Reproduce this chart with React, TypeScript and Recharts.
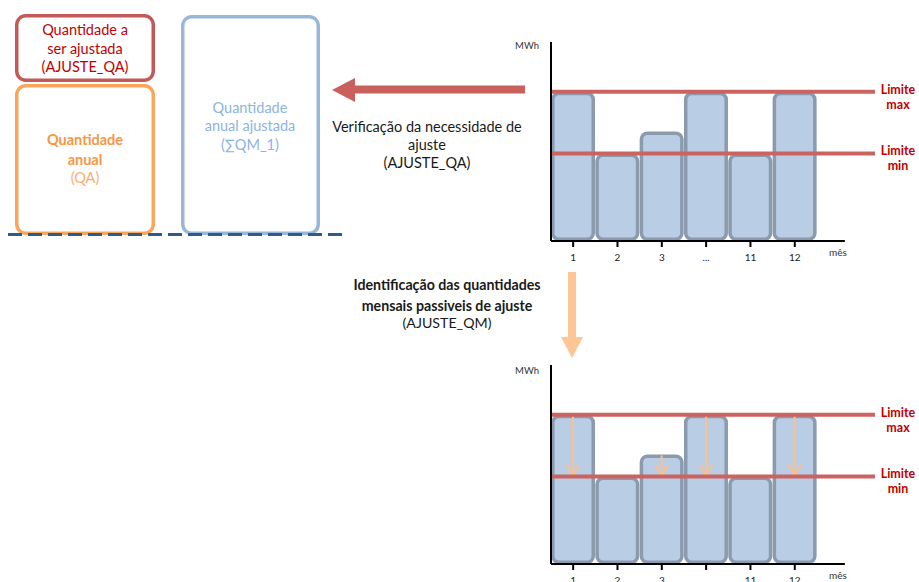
import React from "react";
import { BarChart, Bar, XAxis, YAxis, ReferenceLine } from "recharts";

// meses mostrados no eixo (posição 1..6) e os seus rótulos
const meses = [1, 2, 3, 4, 5, 6];
const rotulosMes = ["1", "2", "3", "...", "11", "12"];
// quantidades mensais (MWh, escala relativa 0-100)
const quantidadesMensais = [75, 44, 55, 75, 44, 75];
const LIMITE_MAX = 75;
const LIMITE_MIN = 44;
const FIM_EIXO_X = 7.13;

const dados = meses.map((mes, i) => ({ mes, valor: quantidadesMensais[i] }));

const FONTE = "Lato, 'Liberation Sans', sans-serif";
const VERMELHO = "#C00000";
const LINHA_LIMITE = "#CB6360";
const ESPESSURA = 3.5;

const BarraMensal = (props: any) => {
  const { x, y, width, height, payload, comSetas } = props;
  const h = ESPESSURA / 2;
  let seta = null;
  if (comSetas && payload.valor > LIMITE_MIN) {
    const yMin = y + height * (1 - LIMITE_MIN / payload.valor);
    const cx = x + width / 2;
    seta = (
      <g stroke="#FAC08F" strokeWidth={2} fill="none">
        <line x1={cx} y1={y + 1} x2={cx} y2={yMin - 1} />
        <polyline points={`${cx - 6.5},${yMin - 12} ${cx},${yMin - 1} ${cx + 6.5},${yMin - 12}`} />
      </g>
    );
  }
  return (
    <g>
      <rect
        x={x + h}
        y={y + h}
        width={width - ESPESSURA}
        height={height - ESPESSURA}
        rx={6}
        ry={6}
        fill="#B9CDE5"
        stroke="#8B9AAD"
        strokeWidth={ESPESSURA}
      />
      {seta}
    </g>
  );
};

const rotuloLimite = (nome: string) => (props: any) => {
  const { viewBox } = props;
  const cx = viewBox.x + viewBox.width + 23;
  return (
    <text x={cx} y={viewBox.y + 2} textAnchor="middle" fill={VERMELHO} fontFamily={FONTE} fontWeight={700} fontSize={12.5}>
      <tspan x={cx}>Limite</tspan>
      <tspan x={cx} dy={15}>{nome}</tspan>
    </text>
  );
};

const Grafico = ({ top, comSetas, mwhDy }: { top: number; comSetas: boolean; mwhDy: number }) => (
  <div style={{ position: "absolute", left: 500, top }}>
    <BarChart
      width={419}
      height={250}
      data={dados}
      margin={{ top: 12, right: 44, bottom: 9, left: 0 }}
      barCategoryGap={0}
      barGap={0}
    >
      <XAxis
        type="number"
        dataKey="mes"
        domain={[0.5, 7.81]}
        ticks={meses}
        interval={0}
        tickFormatter={(v) => rotulosMes[v - 1]}
        axisLine={false}
        tickLine={{ stroke: "#000", strokeWidth: 2 }}
        tickSize={6}
        tickMargin={7}
        tick={{ fontSize: 10, fill: "#222", fontFamily: FONTE }}
        height={30}
      />
      <YAxis
        domain={[0, 100]}
        tick={false}
        tickLine={false}
        axisLine={{ stroke: "#000", strokeWidth: 2 }}
        width={51}
        label={(p: any) => (
          <text
            x={p.viewBox.x + p.viewBox.width - 12}
            y={p.viewBox.y + mwhDy}
            textAnchor="end"
            fontSize={9.5}
            fill="#333"
            fontFamily={FONTE}
          >
            MWh
          </text>
        )}
      />
      <Bar
        dataKey="valor"
        isAnimationActive={false}
        shape={(p: any) => <BarraMensal {...p} comSetas={comSetas} />}
      />
      <ReferenceLine
        segment={[{ x: 0.5, y: 0 }, { x: FIM_EIXO_X, y: 0 }]}
        stroke="#000"
        strokeWidth={2}
        ifOverflow="visible"
        label={(p: any) => (
          <text
            x={p.viewBox.x + p.viewBox.width - 7}
            y={p.viewBox.y + 15}
            textAnchor="middle"
            fontSize={10}
            fill="#333"
            fontFamily={FONTE}
          >
            mês
          </text>
        )}
      />
      <ReferenceLine y={LIMITE_MAX} stroke={LINHA_LIMITE} strokeWidth={4} label={rotuloLimite("max")} />
      <ReferenceLine y={LIMITE_MIN} stroke={LINHA_LIMITE} strokeWidth={4} label={rotuloLimite("min")} />
    </BarChart>
  </div>
);

const Diagrama = () => (
  <svg width={919} height={582} style={{ position: "absolute", left: 0, top: 0 }} fontFamily={FONTE}>
    <rect x={16.75} y={15.75} width={136.5} height={64.5} rx={9} fill="#fff" stroke="#C35A57" strokeWidth={3.5} />
    <rect x={16.75} y={85.75} width={136.5} height={147.5} rx={9} fill="#fff" stroke="#F9A65A" strokeWidth={3.5} />
    <rect x={182.75} y={16.75} width={135.5} height={216.5} rx={9} fill="#fff" stroke="#9AB7DA" strokeWidth={3.5} />
    <line x1={8} y1={234.5} x2={345} y2={234.5} stroke="#2F5A8C" strokeWidth={3} strokeDasharray="14 6" />

    <text textAnchor="middle" fontSize={14.5} fill={VERMELHO}>
      <tspan x={85} y={35}>Quantidade a</tspan>
      <tspan x={85} y={54}>ser ajustada</tspan>
      <tspan x={85} y={72}>(AJUSTE_QA)</tspan>
    </text>
    <text textAnchor="middle" fontSize={14.5} fill="#F79646">
      <tspan x={85} y={145} fontWeight={700}>Quantidade</tspan>
      <tspan x={85} y={165} fontWeight={700}>anual</tspan>
      <tspan x={85} y={183} fill="#F9AE70">(QA)</tspan>
    </text>
    <text textAnchor="middle" fontSize={14.5} fill="#8DB3E2">
      <tspan x={250} y={113}>Quantidade</tspan>
      <tspan x={250} y={131}>anual ajustada</tspan>
      <tspan x={250} y={150}>(∑QM_1)</tspan>
    </text>

    <polygon
      points="332,90 355,78 355,85.5 525,85.5 525,93.5 355,93.5 355,102"
      fill="#C9605C"
    />
    <text textAnchor="middle" fontSize={14.5} fill="#1a1a1a">
      <tspan x={427} y={132}>Verificação da necessidade de</tspan>
      <tspan x={427} y={150}>ajuste</tspan>
      <tspan x={427} y={168}>(AJUSTE_QA)</tspan>
    </text>

    <polygon points="568,272 576,272 576,337 583,337 572,358 561,337 568,337" fill="#FCC794" />
    <text textAnchor="middle" fontSize={14.2} fill="#1a1a1a">
      <tspan x={447} y={290} fontWeight={700}>Identificação das quantidades</tspan>
      <tspan x={447} y={311} fontWeight={700}>mensais passiveis de ajuste</tspan>
      <tspan x={447} y={328}>(AJUSTE_QM)</tspan>
    </text>
  </svg>
);

export default function App() {
  return (
    <div style={{ position: "absolute", left: 0, top: 0, width: 919, height: 582, overflow: "hidden", background: "#fff" }}>
      <Diagrama />
      <Grafico top={30} comSetas={false} mwhDy={7} />
      <Grafico top={353} comSetas={true} mwhDy={9} />
    </div>
  );
}
